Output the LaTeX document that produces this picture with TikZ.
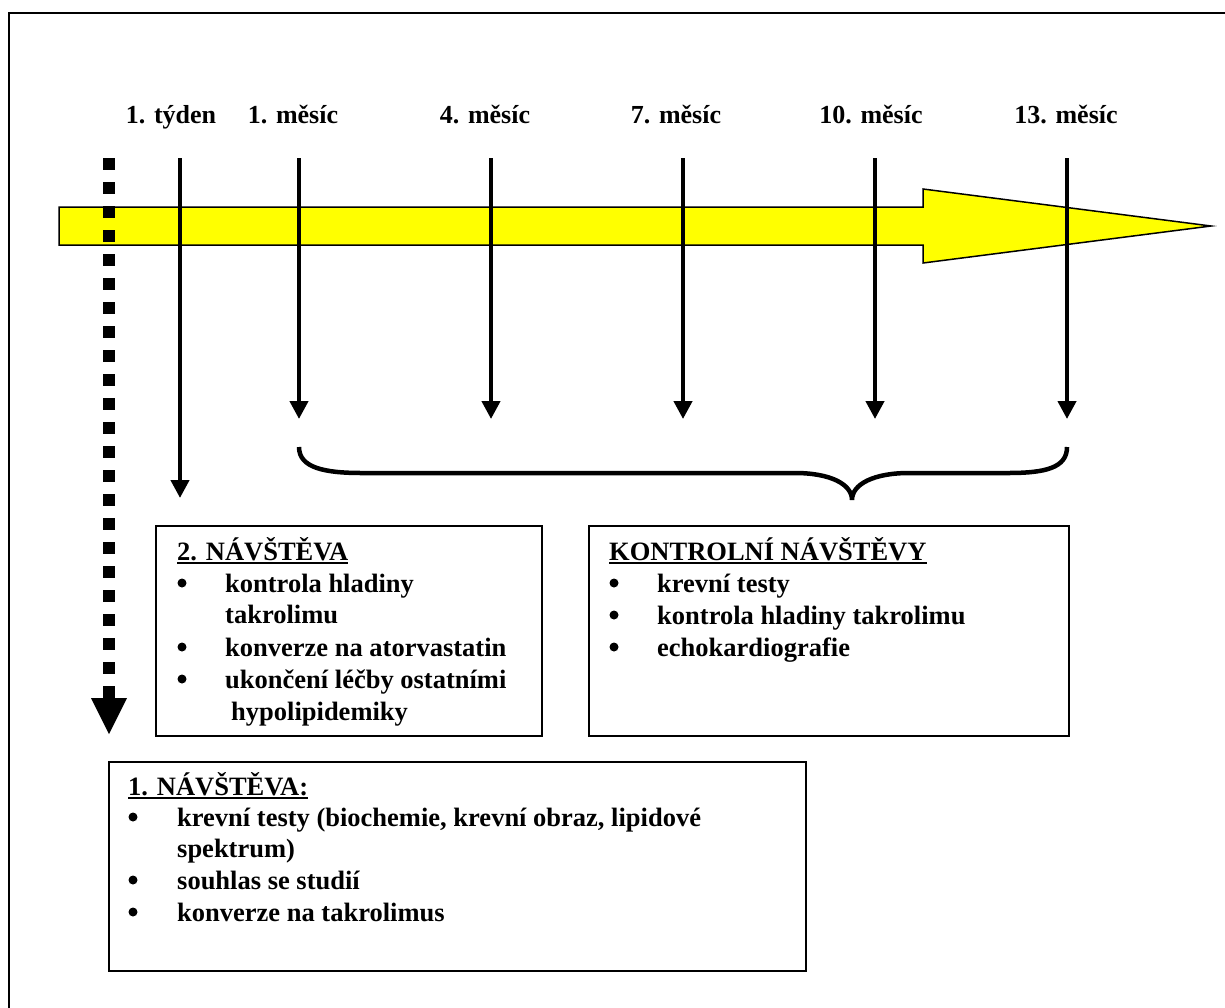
\documentclass[tikz,border=0pt]{standalone}
\usepackage{fontspec}
\setmainfont{Liberation Serif}
\usetikzlibrary{arrows.meta}
\definecolor{arrowyellow}{RGB}{255,255,0}
\begin{document}
\begin{tikzpicture}[x=1pt,y=-1pt,
  txt/.style={anchor=base west, inner sep=0pt, font=\fontsize{26.5}{30}\selectfont\bfseries},
  lbl/.style={anchor=base, inner sep=0pt, font=\fontsize{26}{30}\selectfont\bfseries},
  bul/.style={circle, fill, inner sep=0pt, minimum size=9pt},
  box/.style={draw, line width=2pt, inner sep=0pt, anchor=north west},
  varrow/.style={line width=4.2pt, -{Triangle[length=18pt,width=18pt]}},
  uline/.style={line width=2pt},
]
\useasboundingbox (0,0) rectangle (1225,1007);
\draw[line width=2pt] (9,13) rectangle (1240,1020);

% yellow time arrow
\draw[fill=arrowyellow, line width=1.5pt, line join=miter]
  (59,207) -- (923,207) -- (923,189) -- (1211,226) -- (923,263) -- (923,245) -- (59,245) -- cycle;

% dotted arrow
\coordinate (ds) at (109,158);
\coordinate (de) at (109,698);
\draw[line width=12pt, dash pattern=on 12pt off 12pt] (ds) -- (de);
\fill ([xshift=-18pt]de) -- ([xshift=18pt]de) -- ([yshift=-36pt]de) -- cycle;

% labels
\node[lbl] (l0) at (171,123) {1. týden};
\node[lbl] (l1) at (293,123) {1. měsíc};
\node[lbl] (l4) at (485,123) {4. měsíc};
\node[lbl] (l7) at (676,123) {7. měsíc};
\node[lbl] (l10) at (871,123) {10. měsíc};
\node[lbl] (l13) at (1066,123) {13. měsíc};

% vertical arrows
\coordinate (a0s) at (180,158); \coordinate (a0e) at (180,498);
\coordinate (a1s) at (299,158); \coordinate (a1e) at (299,419);
\coordinate (a4s) at (491,158); \coordinate (a4e) at (491,419);
\coordinate (a7s) at (683,158); \coordinate (a7e) at (683,419);
\coordinate (a10s) at (875,158); \coordinate (a10e) at (875,419);
\coordinate (a13s) at (1067,158); \coordinate (a13e) at (1067,419);
\draw[varrow] (a0s) -- (a0e);
\draw[varrow] (a1s) -- (a1e);
\draw[varrow] (a4s) -- (a4e);
\draw[varrow] (a7s) -- (a7e);
\draw[varrow] (a10s) -- (a10e);
\draw[varrow] (a13s) -- (a13e);

% brace
\coordinate (bl) at (299,447);
\coordinate (br) at (1067,447);
\coordinate (bc) at (852,500);
\draw[line width=4.5pt] (bl) .. controls (299,468) and (325,473) .. (362,473) -- (795,473)
  .. controls (830,473) and (852,484) .. (bc)
  .. controls (852,484) and (874,473) .. (909,473) -- (1008,473)
  .. controls (1045,473) and (1067,468) .. (br);

% boxes
\node[box, minimum width=386pt, minimum height=210pt] (b2) at (155,525) {};
\node[box, minimum width=480pt, minimum height=210pt] (bk) at (588,525) {};
\node[box, minimum width=697pt, minimum height=209pt] (b1) at (108,761) {};

% box 2 text
\node[txt] (t2) at (177,560) {2. NÁVŠTĚVA};
\draw[uline] ([yshift=-3pt]t2.base west) -- ([yshift=-3pt]t2.base east);
\node[bul] (t2b1) at (182,583) {};
\node[txt] (t2i1) at (225,592) {kontrola hladiny};
\node[txt] (t2i1b) at (225,623) {takrolimu};
\node[bul] (t2b2) at (182,647) {};
\node[txt] (t2i2) at (225,656) {konverze na atorvastatin};
\node[bul] (t2b3) at (182,679) {};
\node[txt] (t2i3) at (225,688) {ukončení léčby ostatními};
\node[txt] (t2i3b) at (231,720) {hypolipidemiky};

% control box text
\node[txt] (tk) at (609,560) {KONTROLNÍ NÁVŠTĚVY};
\draw[uline] ([yshift=-3pt]tk.base west) -- ([yshift=-3pt]tk.base east);
\node[bul] (tkb1) at (614,583) {};
\node[txt] (tki1) at (657,592) {krevní testy};
\node[bul] (tkb2) at (614,615) {};
\node[txt] (tki2) at (657,624) {kontrola hladiny takrolimu};
\node[bul] (tkb3) at (614,647) {};
\node[txt] (tki3) at (657,656) {echokardiografie};

% box 1 text
\node[txt] (t1) at (128,795) {1. NÁVŠTĚVA:};
\draw[uline] ([yshift=-3pt]t1.base west) -- ([yshift=-3pt]t1.base east);
\node[bul] (t1b1) at (133,817) {};
\node[txt] (t1i1) at (177,826) {krevní testy (biochemie, krevní obraz, lipidové};
\node[txt] (t1i1b) at (177,857) {spektrum)};
\node[bul] (t1b2) at (133,880) {};
\node[txt] (t1i2) at (177,889) {souhlas se studií};
\node[bul] (t1b3) at (133,912) {};
\node[txt] (t1i3) at (177,921) {konverze na takrolimus};
\end{tikzpicture}
\end{document}
